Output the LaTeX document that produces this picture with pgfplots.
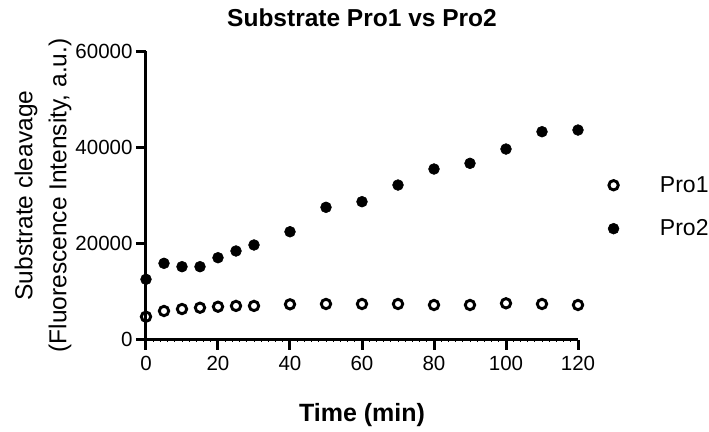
\documentclass[border=0pt]{standalone}
\usepackage{fontspec}
\setmainfont{Liberation Sans}
\usepackage{pgfplots}
\pgfplotsset{compat=1.18}

% Substrate cleavage, fluorescence (a.u.) vs time (min)
\pgfplotstableread{
t     pro1   pro2
0     4750   12540
5     5940   15870
10    6350   15170
15    6620   15170
20    6830   17040
25    7000   18440
30    7000   19690
40    7330   22450
50    7400   27540
60    7400   28710
70    7400   32180
80    7190   35520
90    7190   36700
100   7540   39680
110   7400   43290
120   7190   43640
}\cleavage

\begin{document}
\begin{tikzpicture}
\begin{axis}[
  at={(0,0)}, anchor=south west,
  scale only axis, width=432bp, height=288bp,
  xmin=0, xmax=120, ymin=0, ymax=60000,
  xtick={0,20,...,120}, ytick={0,20000,40000,60000},
  minor x tick num=9,
  scaled y ticks=false,
  axis lines*=left,
  axis line style={line width=3bp, black},
  tick align=outside,
  major tick length=10bp, minor tick length=2bp,
  major tick style={line width=3bp, black},
  minor tick style={line width=0.7bp, black},
  tick label style={font=\fontsize{20.5bp}{24bp}\selectfont},
  xticklabel style={yshift=-3bp},
  /pgf/number format/assume math mode=true,
  yticklabel style={/pgf/number format/.cd, fixed, 1000 sep={}},
  title={Substrate Pro1 vs Pro2},
  title style={font=\bfseries\fontsize{24.5bp}{29bp}\selectfont, at={(axis description cs:0.5,1.0677)}, anchor=base, inner sep=0pt},
  xlabel={Time (min)},
  xlabel style={font=\bfseries\fontsize{25bp}{30bp}\selectfont, at={(axis description cs:0.5,-0.2830)}, anchor=base, inner sep=0pt},
  ylabel={Substrate cleavage\\(Fluorescence Intensity, a.u.)},
  ylabel style={font=\fontsize{24.5bp}{34bp}\selectfont, align=center, at={(axis description cs:-0.172,0.5)}, anchor=south, inner sep=0pt},
  legend style={at={(axis description cs:1.0694,0.46)}, anchor=west, draw=none, fill=none, inner sep=0pt,
    font=\fontsize{23bp}{27bp}\selectfont, row sep=26bp, column sep=41bp,
    cells={anchor=west}, nodes={inner sep=0pt}},
  legend image code/.code={\draw[mark repeat=2,mark phase=2,#1] plot coordinates {(0bp,0bp)(15bp,0bp)(30bp,0bp)};},
  clip=false,
]
\addplot[only marks, mark=o, mark size=4.7bp, mark options={line width=2.9bp, black}] table[x=t, y=pro1] {\cleavage};
\addlegendentry{Pro1}
\addplot[only marks, mark=*, mark size=5.4bp, mark options={line width=0.6bp, draw=black, fill=black}] table[x=t, y=pro2] {\cleavage};
\addlegendentry{Pro2}
\end{axis}
\pgfresetboundingbox
\path[use as bounding box] (-146bp,-92.5bp) rectangle (563bp,339.5bp);
\end{tikzpicture}
\end{document}
